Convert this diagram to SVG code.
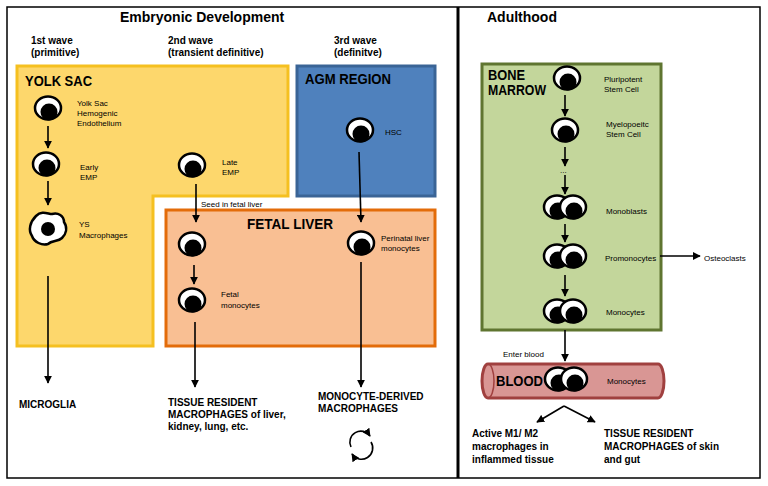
<svg xmlns="http://www.w3.org/2000/svg" width="768" height="486" viewBox="0 0 768 486">
<style>
text{font-family:"Liberation Sans",Arial,sans-serif;fill:#000}
.h{font-size:14px;font-weight:bold}
.w{font-size:10px;font-weight:bold}
.r{font-size:14px;font-weight:bold}
.s{font-size:8px}
.b{font-size:10px;font-weight:bold}
.c{stroke:#000;stroke-width:1.6;fill:none}
</style>
<defs>
<marker id="a" viewBox="0 0 10 10" refX="9" refY="5" markerWidth="5" markerHeight="5" orient="auto"><path d="M0,0L10,5L0,10z" fill="#000"/></marker>
<g id="cell"><ellipse cx="0" cy="0" rx="13" ry="11.5" fill="#fff" stroke="#000" stroke-width="2.5"/><circle cx="1" cy="4" r="8.5" fill="#000"/></g>
<g id="dcell"><use href="#cell" x="-8"/><use href="#cell" x="8"/></g>
</defs>
<rect x="7" y="7" width="753" height="471" fill="#fff" stroke="#000" stroke-width="1.5"/>
<line x1="458" y1="7" x2="458" y2="478" stroke="#000" stroke-width="3"/>
<text class="h" x="120" y="22">Embryonic Development</text>
<text class="h" x="487" y="22">Adulthood</text>
<text class="w" x="31" y="44">1st wave</text><text class="w" x="31" y="56">(primitive)</text>
<text class="w" x="168" y="44">2nd wave</text><text class="w" x="168" y="56">(transient definitive)</text>
<text class="w" x="334" y="44">3rd wave</text><text class="w" x="334" y="56">(definitve)</text>
<g id="yolksac"><path d="M17,66H288V196H153V346H17Z" fill="#fdd76c" stroke="#f5c020" stroke-width="3"/><text class="r" x="25" y="86" textLength="67" lengthAdjust="spacingAndGlyphs">YOLK SAC</text></g>
<g id="agm"><rect x="297" y="66" width="138" height="130" fill="#4f81bd" stroke="#3a6496" stroke-width="3"/><text class="r" x="305" y="84" textLength="86" lengthAdjust="spacingAndGlyphs">AGM REGION</text></g>
<g id="fetal"><rect x="166" y="210" width="269" height="136" fill="#f9bf93" stroke="#e36c0a" stroke-width="3"/><text class="r" x="247" y="229" textLength="86" lengthAdjust="spacingAndGlyphs">FETAL LIVER</text></g>
<g id="bonemarrow"><rect x="482" y="64" width="179" height="266" fill="#c3d69b" stroke="#5f7530" stroke-width="3"/><text class="r" x="488" y="80" textLength="37" lengthAdjust="spacingAndGlyphs">BONE</text><text class="r" x="488" y="95" textLength="58" lengthAdjust="spacingAndGlyphs">MARROW</text></g>
<g id="blood"><path d="M488,364H658A6,17 0 0 1 658,398H488A6,17 0 0 1 488,364Z" fill="#d99694" stroke="#a0403f" stroke-width="3"/><path d="M488,364A6,17 0 0 1 488,398" fill="none" stroke="#a0403f" stroke-width="1.5"/><text class="r" x="496" y="386" textLength="47" lengthAdjust="spacingAndGlyphs">BLOOD</text><text class="s" x="607" y="384">Monocytes</text></g>
<g id="ys-hemo"><use href="#cell" x="48" y="108"/><text class="s" x="77" y="106">Yolk Sac</text><text class="s" x="77" y="116">Hemogenic</text><text class="s" x="77" y="126">Endothelium</text></g>
<g id="early-emp"><use href="#cell" x="46" y="164"/><text class="s" x="80" y="170">Early</text><text class="s" x="80" y="180">EMP</text></g>
<g id="ys-mac"><path d="M36,216C42,210 48,214 52,214C58,212 64,216 64,222C68,228 66,234 62,238C58,242 52,240 48,244C42,246 34,242 32,236C28,230 30,222 36,216Z" fill="#fff" stroke="#000" stroke-width="2.5"/><circle cx="48" cy="229" r="7" fill="#000"/><text class="s" x="79" y="227">YS</text><text class="s" x="79" y="238">Macrophages</text></g>
<g id="late-emp"><use href="#cell" x="192" y="165"/><text class="s" x="222" y="165">Late</text><text class="s" x="222" y="175">EMP</text></g>
<g id="hsc"><use href="#cell" x="360" y="130"/><text class="s" x="385" y="135">HSC</text></g>
<g id="perinatal"><use href="#cell" x="361" y="243"/><text class="s" x="381" y="241">Perinatal liver</text><text class="s" x="381" y="251">monocytes</text></g>
<g id="fetal-cell"><use href="#cell" x="192" y="244"/></g>
<g id="fetal-mono"><use href="#cell" x="192" y="300"/><text class="s" x="221" y="297">Fetal</text><text class="s" x="221" y="308">monocytes</text></g>
<g id="pluri"><use href="#cell" x="567" y="78"/><text class="s" x="604" y="82">Pluripotent</text><text class="s" x="604" y="92">Stem Cell</text></g>
<g id="myelo"><use href="#cell" x="565" y="130"/><text class="s" x="606" y="127">Myelopoeitc</text><text class="s" x="606" y="137">Stem Cell</text></g>
<g id="monoblasts"><use href="#dcell" x="565" y="207"/><text class="s" x="606" y="214">Monoblasts</text></g>
<g id="promono"><use href="#dcell" x="565" y="256"/><text class="s" x="605" y="261">Promonocytes</text></g>
<g id="mono"><use href="#dcell" x="565" y="311"/><text class="s" x="606" y="315">Monocytes</text></g>
<g id="blood-cell"><use href="#dcell" x="566" y="379"/></g>
<g id="osteo"><text class="s" x="704" y="261">Osteoclasts</text></g>
<g id="microglia"><text class="b" x="19" y="408">MICROGLIA</text></g>
<g id="trm1"><text class="b" x="168" y="406">TISSUE RESIDENT</text><text class="b" x="168" y="418">MACROPHAGES of liver,</text><text class="b" x="168" y="430">kidney, lung, etc.</text></g>
<g id="mdm"><text class="b" x="318" y="400">MONOCYTE-DERIVED</text><text class="b" x="318" y="412">MACROPHAGES</text>
<path d="M351,447A11,11 0 0 1 370,436" class="c" stroke-width="2.5" marker-end="url(#a)"/><path d="M371,442A11,11 0 0 1 352,454" class="c" stroke-width="2.5" marker-end="url(#a)"/></g>
<g id="m1m2"><text class="b" x="472" y="437">Active M1/ M2</text><text class="b" x="472" y="450">macrophages in</text><text class="b" x="472" y="463">inflammed tissue</text></g>
<g id="trm2"><text class="b" x="604" y="437">TISSUE RESIDENT</text><text class="b" x="604" y="450">MACROPHAGES of skin</text><text class="b" x="604" y="463">and gut</text></g>
<g id="connectors">
<line class="c" x1="48" y1="126" x2="48" y2="148" marker-end="url(#a)"/>
<line class="c" x1="48" y1="181" x2="48" y2="205" marker-end="url(#a)"/>
<line class="c" x1="196" y1="184" x2="196" y2="222" marker-end="url(#a)"/>
<text class="s" x="201" y="207">Seed in fetal liver</text>
<line class="c" x1="359" y1="152" x2="361" y2="222" marker-end="url(#a)"/>
<line class="c" x1="194" y1="265" x2="194" y2="284" marker-end="url(#a)"/>
<line class="c" x1="48" y1="276" x2="48" y2="383" marker-end="url(#a)"/>
<line class="c" x1="195" y1="322" x2="195" y2="387" marker-end="url(#a)"/>
<line class="c" x1="361" y1="262" x2="361" y2="387" marker-end="url(#a)"/>
<line class="c" x1="565" y1="95" x2="565" y2="116" marker-end="url(#a)"/>
<line class="c" x1="565" y1="147" x2="565" y2="166" marker-end="url(#a)"/>
<text class="s" x="560" y="173">...</text>
<line class="c" x1="565" y1="175" x2="565" y2="194" marker-end="url(#a)"/>
<line class="c" x1="565" y1="224" x2="565" y2="242" marker-end="url(#a)"/>
<line class="c" x1="565" y1="275" x2="565" y2="296" marker-end="url(#a)"/>
<line class="c" x1="565" y1="330" x2="565" y2="361" marker-end="url(#a)"/>
<text class="s" x="503" y="357">Enter blood</text>
<line class="c" x1="660" y1="256" x2="700" y2="256" marker-end="url(#a)"/>
<path class="c" d="M564,406L537,422" marker-end="url(#a)"/>
<path class="c" d="M564,406L595,422" marker-end="url(#a)"/>
</g>
</svg>
